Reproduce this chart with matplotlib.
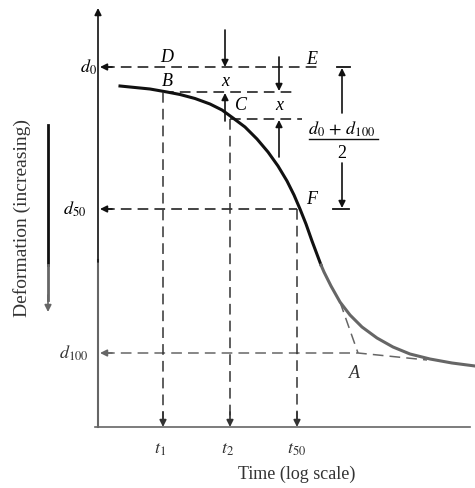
import numpy as np
import matplotlib.pyplot as plt

plt.rcParams['font.family'] = ['Liberation Serif', 'DejaVu Serif']
plt.rcParams['mathtext.fontset'] = 'stix'

# consolidation curve (pixel-like units, y down)
curve_x = [120, 135, 150, 167, 180, 195, 210, 222, 233, 245, 257, 268,
           278, 287, 294, 300, 306, 312, 318, 321]
curve_y = [86, 87.5, 89, 92, 94.5, 98.5, 104, 110, 118, 127, 139, 152,
           166, 181, 195, 209, 224, 241, 257, 265]
tail_x = [321, 324, 331, 340, 350, 362, 377, 393, 410, 430, 452, 475]
tail_y = [265, 272, 286, 302, 315, 327, 338, 347, 354, 359, 363, 366]

# levels and times
d0 = 67
yB = 92
yC = 119
d50 = 209
d100 = 353
t1 = 163
t2 = 230
t50 = 297
A = (358, 353)

dark = '#111111'
grey = '#666666'

fig = plt.figure(figsize=(4.75, 4.88), dpi=100)
ax = fig.add_axes([0, 0, 1, 1])
ax.set_xlim(0, 475)
ax.set_ylim(488, 0)
ax.axis('off')


def head(x0, y0, x1, y1, color=dark):
    ax.annotate('', xy=(x1, y1), xytext=(x0, y0),
                arrowprops=dict(arrowstyle='-|>', color=color, lw=1.2,
                                mutation_scale=10, shrinkA=0, shrinkB=0))


def dash(xs, ys, color=dark, lw=1.1):
    ax.plot(xs, ys, color=color, lw=lw, ls=(0, (7, 4)))


# axes
ax.plot([98, 98], [427, 260], color=grey, lw=1.5)
head(98, 262, 98, 8)
ax.plot([95, 470], [427, 427], color=grey, lw=1.2)
head(460, 427, 476, 427, grey)

# curve
ax.plot(curve_x, curve_y, color=dark, lw=2.2, solid_joinstyle='round')
ax.plot(tail_x, tail_y, color=grey, lw=2.2, solid_joinstyle='round')

# horizontal dashed lines
dash([104, 322], [d0, d0])
head(112, d0, 100, d0)
ax.plot([337, 350], [d0, d0], color=dark, lw=1.3)
dash([t1, 297], [yB, yB])
dash([t2, 302], [yC, yC])
dash([104, t50], [d50, d50])
head(112, d50, 100, d50)
ax.plot([333, 349], [d50, d50], color=dark, lw=1.3)
dash([104, A[0], 427], [d100, A[1], 360], grey)
head(112, d100, 100, d100, grey)
dash([340, A[0]], [302, A[1]], grey)

# vertical dashed lines down to the time axis
for tx, ty in [(t1, yB), (t2, yC), (t50, d50)]:
    dash([tx, tx], [ty, 420], '#333333')
    head(tx, 412, tx, 427, '#333333')

# x arrows
head(225, 30, 225, d0)
head(225, 121, 225, yB + 1)
head(279, 57, 279, yB - 1)
head(279, 157, 279, yC + 1)
head(342, 113, 342, d0 + 1)
head(342, 163, 342, d50 - 1)

# left arrow
ax.plot([48, 48], [125, 265], color=dark, lw=2)
ax.plot([48, 48], [265, 300], color=grey, lw=2)
head(48, 295, 48, 312, grey)

fs = 13
it = dict(fontsize=fs, ha='center', va='center', style='italic')
ax.text(88, d0, r'$d_0$', fontsize=fs, ha='center', va='center')
ax.text(75, d50, r'$d_{50}$', fontsize=fs, ha='center', va='center')
ax.text(74, d100, r'$d_{100}$', fontsize=fs, ha='center', va='center',
        color='#333333')
ax.text(167, 57, 'D', **it)
ax.text(167, 81, 'B', **it)
ax.text(225, 81, 'x', **it)
ax.text(241, 106, 'C', **it)
ax.text(279, 106, 'x', **it)
ax.text(312, 59, 'E', **it)
ax.text(312, 199, 'F', **it)
ax.text(354, 374, 'A', **it, color='#333333')
ax.text(342, 129, r'$d_0\,+\,d_{100}$', fontsize=fs, ha='center', va='center')
ax.plot([309, 378], [139, 139], color=dark, lw=1)
ax.text(342, 153, '2', fontsize=fs, ha='center', va='center')

ax.text(160, 450, r'$t_1$', fontsize=fs, ha='center', va='center',
        color='#333333')
ax.text(228, 450, r'$t_2$', fontsize=fs, ha='center', va='center',
        color='#333333')
ax.text(297, 450, r'$t_{50}$', fontsize=fs, ha='center', va='center',
        color='#333333')
ax.text(297, 474, 'Time (log scale)', fontsize=13, ha='center', va='center',
        color='#333333')
ax.text(22, 218, 'Deformation (increasing)', fontsize=14, ha='center',
        va='center', rotation=90, color='#333333')

fig.savefig('out.png', dpi=100)
